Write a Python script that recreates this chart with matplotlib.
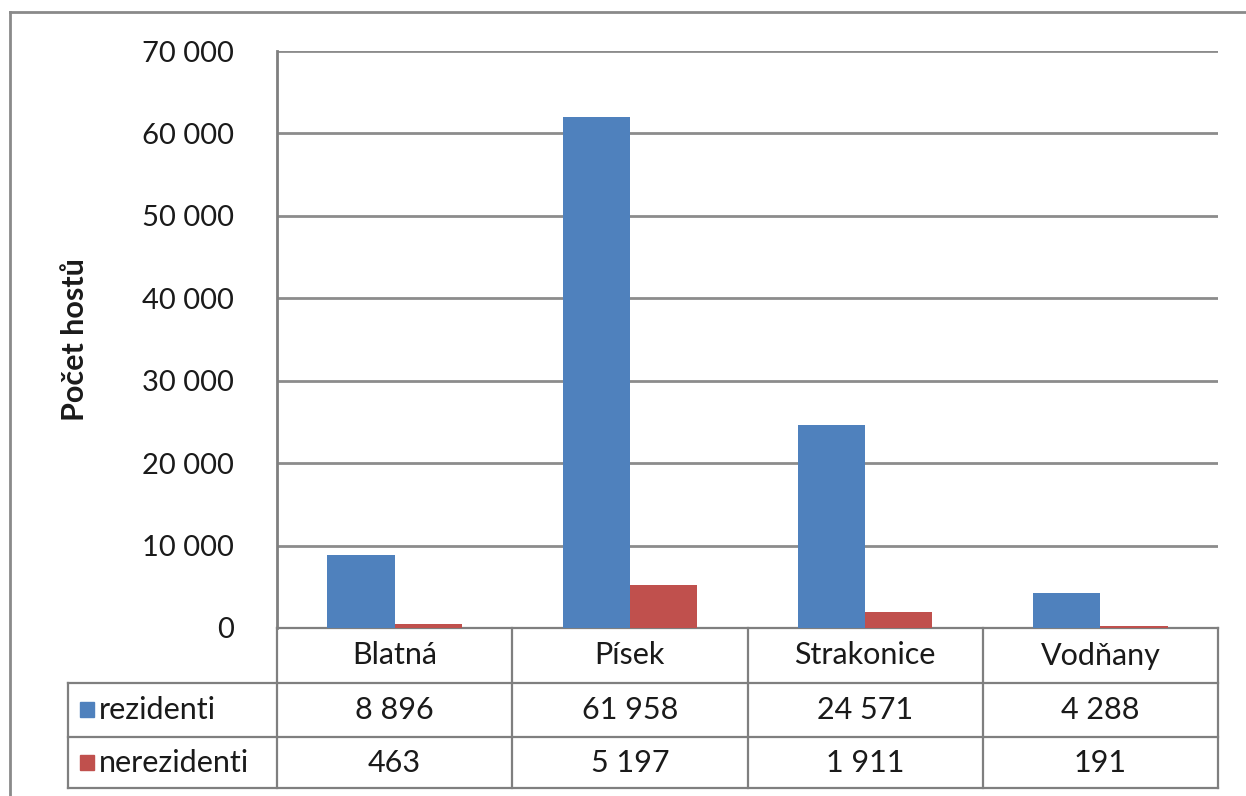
import matplotlib
matplotlib.use("Agg")
import matplotlib.pyplot as plt
import matplotlib.transforms as mtransforms
from matplotlib.patches import Rectangle
import numpy as np

plt.rcParams['font.family'] = ['Lato', 'DejaVu Sans']

# --- data ---
categories = ["Blatná", "Písek", "Strakonice", "Vodňany"]
series_names = ["rezidenti", "nerezidenti"]
rezidenti = [8896, 61958, 24571, 4288]
nerezidenti = [463, 5197, 1911, 191]
y_ticks = [0, 10000, 20000, 30000, 40000, 50000, 60000, 70000]
y_label = "Počet hostů"

colors = ["#4F81BD", "#C0504D"]
grid_col = "#8C8C8C"
line_col = "#7F7F7F"
text_col = "#1A1A1A"
W, H = 1246, 796


def fmt(v):
    return f"{v:,}".replace(",", " ")


fig = plt.figure(figsize=(W / 100, H / 100), dpi=100)
fig.patch.set_facecolor("white")

# outer chart frame (cut off on right/bottom as in the screenshot)
fig.add_artist(plt.Line2D([10 / W, 10 / W], [0, 1 - 12 / H], transform=fig.transFigure,
                          color="#8A8A8A", lw=2))
fig.add_artist(plt.Line2D([10 / W, 1], [1 - 12 / H, 1 - 12 / H], transform=fig.transFigure,
                          color="#8A8A8A", lw=2))

left, right, top, bottom = 277, 1218, 51, 628
ax = fig.add_axes([left / W, 1 - bottom / H, (right - left) / W, (bottom - top) / H])

x = np.arange(len(categories))
bw = 1 / 3.5
ax.bar(x - bw / 2, rezidenti, bw, color=colors[0], zorder=3)
ax.bar(x + bw / 2, nerezidenti, bw, color=colors[1], zorder=3)

ax.set_xlim(-0.5, len(categories) - 0.5)
ax.set_ylim(0, 70000)
ax.set_yticks(y_ticks)
ax.set_yticklabels([fmt(t) for t in y_ticks], fontsize=21, color=text_col)
ax.tick_params(axis="y", length=0, pad=31)
ax.set_xticks([])
for s in ["top", "right", "bottom"]:
    ax.spines[s].set_visible(False)
ax.spines["left"].set_color(line_col)
ax.spines["left"].set_linewidth(2)
ax.yaxis.grid(True, color=grid_col, lw=2, zorder=0)
ax.set_axisbelow(True)
ax.text(75 / W, 1 - 340 / H, y_label, transform=fig.transFigure, rotation=90,
        ha="center", va="center", fontsize=22, fontweight="bold", color=text_col)

# --- data table below the plot ---
trans = mtransforms.blended_transform_factory(ax.transData, ax.transAxes)
plot_h = bottom - top
px = len(categories) / (right - left)
row_y = [(bottom - yy) / plot_h for yy in (628, 683, 737, 788)]
tbl_left = -0.5 - (left - 68) * px

kw = dict(transform=trans, clip_on=False, color=line_col, lw=1.6)
# horizontal lines
ax.plot([-0.5, 3.5], [row_y[0], row_y[0]], **kw)
for yy in row_y[1:]:
    ax.plot([tbl_left, 3.5], [yy, yy], **kw)
# vertical lines
for xb in np.arange(-0.5, 4.0, 1.0):
    ax.plot([xb, xb], [row_y[0], row_y[3]], **kw)
ax.plot([tbl_left, tbl_left], [row_y[1], row_y[3]], **kw)

txt = dict(transform=trans, ha="center", va="center", fontsize=22, color=text_col, clip_on=False)
for i, c in enumerate(categories):
    ax.text(i, (row_y[0] + row_y[1]) / 2, c, **txt)
for r, vals in enumerate([rezidenti, nerezidenti]):
    yc = (row_y[r + 1] + row_y[r + 2]) / 2
    for i, v in enumerate(vals):
        ax.text(i, yc, fmt(v), **txt)
    # legend key + series name
    ax.add_patch(Rectangle((tbl_left + 12 * px, yc - 7 / plot_h), 14 * px, 15 / plot_h,
                           transform=trans, color=colors[r], clip_on=False))
    ax.text(tbl_left + 31 * px, yc, series_names[r], transform=trans, ha="left",
            va="center", fontsize=22, color=text_col, clip_on=False)

fig.savefig("out.png", dpi=100, facecolor="white")
